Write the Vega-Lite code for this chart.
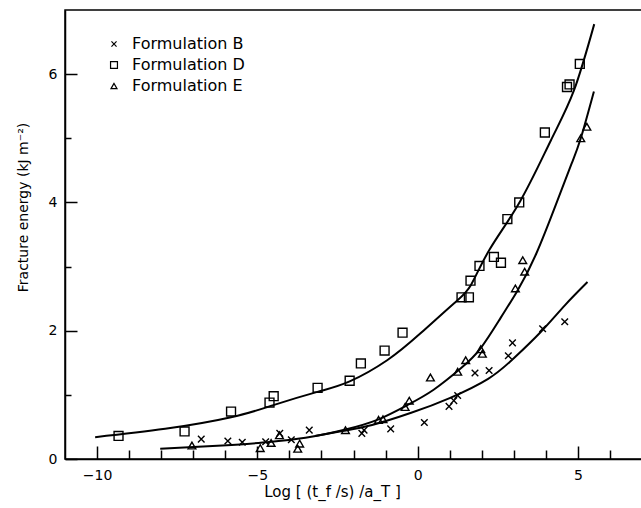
{
  "$schema": "https://vega.github.io/schema/vega-lite/v6.json",
  "width": 577,
  "height": 449,
  "autosize": {"type": "none"},
  "padding": {"left": 65, "top": 10, "right": 0, "bottom": 49},
  "background": "white",
  "config": {"view": {"stroke": "black", "strokeWidth": 1.5}, "font": "DejaVu Sans"},
  "datasets": {
    "points": [
      {"series": "Formulation B", "x": -6.75, "y": 0.31},
      {"series": "Formulation B", "x": -5.92, "y": 0.28},
      {"series": "Formulation B", "x": -5.47, "y": 0.26},
      {"series": "Formulation B", "x": -4.74, "y": 0.27},
      {"series": "Formulation B", "x": -4.3, "y": 0.4},
      {"series": "Formulation B", "x": -3.94, "y": 0.3},
      {"series": "Formulation B", "x": -3.38, "y": 0.45},
      {"series": "Formulation B", "x": -1.74, "y": 0.4},
      {"series": "Formulation B", "x": -1.67, "y": 0.45},
      {"series": "Formulation B", "x": -0.84, "y": 0.47},
      {"series": "Formulation B", "x": 0.21, "y": 0.57},
      {"series": "Formulation B", "x": 0.98, "y": 0.82},
      {"series": "Formulation B", "x": 1.13, "y": 0.91},
      {"series": "Formulation B", "x": 1.25, "y": 0.99},
      {"series": "Formulation B", "x": 1.79, "y": 1.34},
      {"series": "Formulation B", "x": 2.23, "y": 1.38},
      {"series": "Formulation B", "x": 2.83, "y": 1.61},
      {"series": "Formulation B", "x": 2.96, "y": 1.81},
      {"series": "Formulation B", "x": 3.9, "y": 2.03},
      {"series": "Formulation B", "x": 4.59, "y": 2.14},
      {"series": "Formulation D", "x": -9.33, "y": 0.36},
      {"series": "Formulation D", "x": -7.27, "y": 0.43},
      {"series": "Formulation D", "x": -5.82, "y": 0.74},
      {"series": "Formulation D", "x": -4.62, "y": 0.88},
      {"series": "Formulation D", "x": -4.49, "y": 0.98},
      {"series": "Formulation D", "x": -3.12, "y": 1.11},
      {"series": "Formulation D", "x": -2.12, "y": 1.22},
      {"series": "Formulation D", "x": -1.77, "y": 1.49},
      {"series": "Formulation D", "x": -1.03, "y": 1.69},
      {"series": "Formulation D", "x": -0.47, "y": 1.97},
      {"series": "Formulation D", "x": 1.37, "y": 2.52},
      {"series": "Formulation D", "x": 1.6, "y": 2.52},
      {"series": "Formulation D", "x": 1.65, "y": 2.78},
      {"series": "Formulation D", "x": 1.93, "y": 3.01},
      {"series": "Formulation D", "x": 2.38, "y": 3.15},
      {"series": "Formulation D", "x": 2.6, "y": 3.06},
      {"series": "Formulation D", "x": 2.8, "y": 3.74},
      {"series": "Formulation D", "x": 3.17, "y": 4.0},
      {"series": "Formulation D", "x": 3.97, "y": 5.09},
      {"series": "Formulation D", "x": 4.66, "y": 5.8},
      {"series": "Formulation D", "x": 4.74, "y": 5.84},
      {"series": "Formulation D", "x": 5.06, "y": 6.16},
      {"series": "Formulation E", "x": -7.04, "y": 0.21},
      {"series": "Formulation E", "x": -4.91, "y": 0.17},
      {"series": "Formulation E", "x": -4.57, "y": 0.25},
      {"series": "Formulation E", "x": -4.31, "y": 0.37},
      {"series": "Formulation E", "x": -3.74, "y": 0.16},
      {"series": "Formulation E", "x": -3.68, "y": 0.24},
      {"series": "Formulation E", "x": -2.25, "y": 0.45},
      {"series": "Formulation E", "x": -1.22, "y": 0.61},
      {"series": "Formulation E", "x": -1.08, "y": 0.62},
      {"series": "Formulation E", "x": -0.39, "y": 0.81},
      {"series": "Formulation E", "x": -0.26, "y": 0.91},
      {"series": "Formulation E", "x": 0.4, "y": 1.27},
      {"series": "Formulation E", "x": 1.25, "y": 1.36},
      {"series": "Formulation E", "x": 1.5, "y": 1.54},
      {"series": "Formulation E", "x": 1.97, "y": 1.71},
      {"series": "Formulation E", "x": 2.02, "y": 1.64},
      {"series": "Formulation E", "x": 3.05, "y": 2.66},
      {"series": "Formulation E", "x": 3.34, "y": 2.92},
      {"series": "Formulation E", "x": 3.28, "y": 3.1},
      {"series": "Formulation E", "x": 5.09, "y": 5.0},
      {"series": "Formulation E", "x": 5.28, "y": 5.18}
    ],
    "curves": [
      {"curve": "D", "x": -10.06, "y": 0.34},
      {"curve": "D", "x": -7.875, "y": 0.47},
      {"curve": "D", "x": -5.82, "y": 0.65},
      {"curve": "D", "x": -4.5, "y": 0.84},
      {"curve": "D", "x": -3.1, "y": 1.05},
      {"curve": "D", "x": -2.12, "y": 1.21},
      {"curve": "D", "x": -0.95, "y": 1.54},
      {"curve": "D", "x": 0.09, "y": 1.96},
      {"curve": "D", "x": 1.14, "y": 2.43},
      {"curve": "D", "x": 1.66, "y": 2.71},
      {"curve": "D", "x": 2.25, "y": 3.27},
      {"curve": "D", "x": 3.2, "y": 4.02},
      {"curve": "D", "x": 4.16, "y": 4.97},
      {"curve": "D", "x": 4.88, "y": 5.75},
      {"curve": "D", "x": 5.51, "y": 6.78},
      {"curve": "E", "x": -8.03, "y": 0.16},
      {"curve": "E", "x": -5.8, "y": 0.22},
      {"curve": "E", "x": -4.75, "y": 0.26},
      {"curve": "E", "x": -3.5, "y": 0.33},
      {"curve": "E", "x": -2.25, "y": 0.46},
      {"curve": "E", "x": -1.26, "y": 0.61},
      {"curve": "E", "x": -0.32, "y": 0.84},
      {"curve": "E", "x": 0.5, "y": 1.08},
      {"curve": "E", "x": 1.34, "y": 1.41},
      {"curve": "E", "x": 1.97, "y": 1.73},
      {"curve": "E", "x": 2.59, "y": 2.2},
      {"curve": "E", "x": 3.11, "y": 2.62},
      {"curve": "E", "x": 3.7, "y": 3.2},
      {"curve": "E", "x": 4.37, "y": 4.04},
      {"curve": "E", "x": 4.8, "y": 4.6},
      {"curve": "E", "x": 5.09, "y": 5.0},
      {"curve": "E", "x": 5.5, "y": 5.73},
      {"curve": "B", "x": -3.2, "y": 0.36},
      {"curve": "B", "x": -2.3, "y": 0.44},
      {"curve": "B", "x": -1.42, "y": 0.53},
      {"curve": "B", "x": -0.2, "y": 0.72},
      {"curve": "B", "x": 1.0, "y": 0.95},
      {"curve": "B", "x": 2.2, "y": 1.25},
      {"curve": "B", "x": 3.0, "y": 1.57},
      {"curve": "B", "x": 3.84, "y": 1.98},
      {"curve": "B", "x": 4.6, "y": 2.4},
      {"curve": "B", "x": 5.3, "y": 2.76}
    ]
  },
  "resolve": {
    "scale": {"x": "independent", "y": "independent"},
    "axis": {"x": "independent", "y": "independent"}
  },
  "layer": [
    {
      "data": {"name": "curves"},
      "mark": {"type": "line", "color": "black", "strokeWidth": 2, "interpolate": "natural"},
      "encoding": {
        "x": {
          "field": "x", "type": "quantitative",
          "scale": {"domain": [-11, 7], "nice": false, "zero": false},
          "axis": {
            "orient": "bottom",
            "values": [-10, -5, 0, 5],
            "format": "d",
            "ticks": false,
            "labelPadding": 9,
            "labelFontSize": 14,
            "labelColor": "black",
            "labelFlush": false,
            "domainColor": "black",
            "domainWidth": 1.5,
            "grid": false,
            "title": "Log [ (t_f /s) /a_T ]",
            "titleFontSize": 15,
            "titleFontWeight": "normal",
            "titleColor": "black",
            "titleX": 267,
            "titlePadding": 2
          }
        },
        "y": {
          "field": "y", "type": "quantitative",
          "scale": {"domain": [0, 7], "nice": false, "zero": false},
          "axis": {
            "orient": "left",
            "values": [0, 2, 4, 6],
            "format": "d",
            "ticks": false,
            "labelPadding": 8,
            "labelFontSize": 14,
            "labelColor": "black",
            "labelFlush": false,
            "domainColor": "black",
            "domainWidth": 1.5,
            "grid": false,
            "title": "Fracture energy (kJ m\u207b\u00b2)",
            "titleFontSize": 14,
            "titleFontWeight": "normal",
            "titleColor": "black",
            "titleY": 197,
            "titlePadding": 18
          }
        },
        "detail": {"field": "curve", "type": "nominal"}
      }
    },
    {
      "data": {"name": "points"},
      "mark": {"type": "point", "filled": false, "color": "black", "strokeWidth": 1.4, "opacity": 1, "size": 60},
      "encoding": {
        "x": {
          "field": "x", "type": "quantitative",
          "scale": {"domain": [-11, 7], "nice": false, "zero": false},
          "axis": {
            "orient": "top",
            "offset": -449,
            "values": [-10, -5, 0, 5],
            "labels": false,
            "domain": false,
            "ticks": true,
            "tickSize": 13,
            "tickColor": "black",
            "tickWidth": 1.5,
            "grid": false,
            "title": null
          }
        },
        "y": {
          "field": "y", "type": "quantitative",
          "scale": {"domain": [0, 7], "nice": false, "zero": false},
          "axis": {
            "orient": "right",
            "offset": -577,
            "values": [0, 2, 4, 6],
            "labels": false,
            "domain": false,
            "ticks": true,
            "tickSize": 12,
            "tickColor": "black",
            "tickWidth": 1.5,
            "grid": false,
            "title": null
          }
        },
        "shape": {
          "field": "series", "type": "nominal",
          "scale": {
            "domain": ["Formulation B", "Formulation D", "Formulation E"],
            "range": ["M-0.85,-0.85L0.85,0.85M0.85,-0.85L-0.85,0.85", "M-1.15,-1.15H1.15V1.15H-1.15Z", "triangle-up"]
          },
          "legend": {
            "orient": "none",
            "legendX": 41,
            "legendY": 26,
            "title": null,
            "padding": 0,
            "labelFontSize": 16,
            "labelColor": "black",
            "labelOffset": 10,
            "rowPadding": 5,
            "symbolSize": 36,
            "symbolStrokeColor": "black",
            "symbolStrokeWidth": 1.2,
            "symbolFillColor": "transparent"
          }
        }
      }
    },
    {
      "data": {"name": "curves"},
      "mark": {"type": "point", "opacity": 0},
      "encoding": {
        "x": {
          "field": "x", "type": "quantitative",
          "scale": {"domain": [-11, 7], "nice": false, "zero": false},
          "axis": {
            "orient": "top",
            "offset": -449,
            "values": [-9, -8, -7, -6, -4, -3, -2, -1, 1, 2, 3, 4, 6],
            "labels": false,
            "domain": false,
            "ticks": true,
            "tickSize": 9,
            "tickColor": "black",
            "tickWidth": 1.5,
            "grid": false,
            "title": null
          }
        },
        "y": {
          "field": "y", "type": "quantitative",
          "scale": {"domain": [0, 7], "nice": false, "zero": false},
          "axis": {
            "orient": "right",
            "offset": -577,
            "values": [1, 3, 5],
            "labels": false,
            "domain": false,
            "ticks": true,
            "tickSize": 6,
            "tickColor": "black",
            "tickWidth": 1.5,
            "grid": false,
            "title": null
          }
        }
      }
    }
  ]
}
